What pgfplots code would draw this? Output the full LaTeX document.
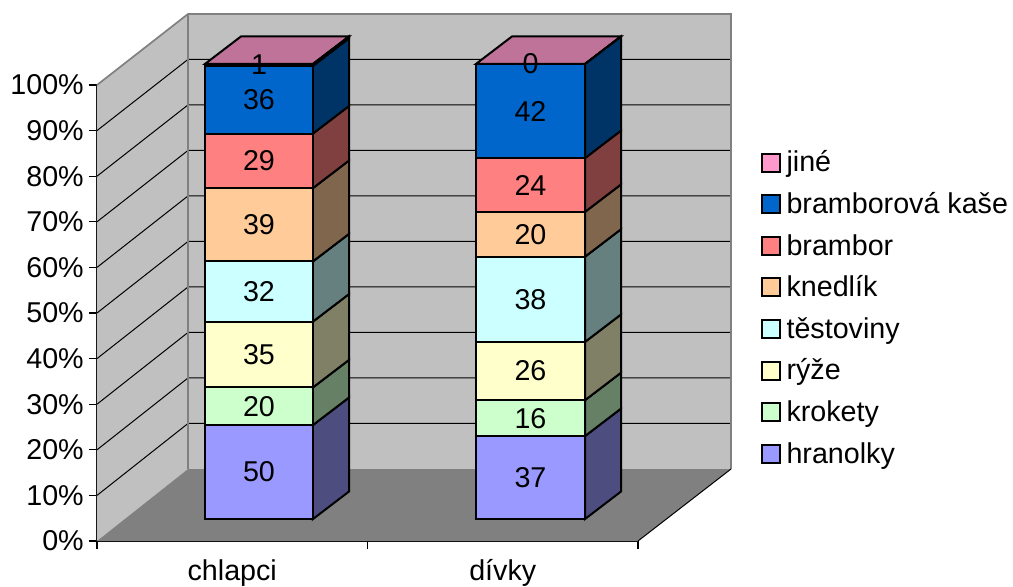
\documentclass[border=0pt]{standalone}
\usepackage{pgfplots}
\pgfplotsset{compat=1.18}
\usepackage{fontspec}
\setmainfont{Liberation Sans}

\definecolor{wall}{HTML}{C0C0C0}
\definecolor{floorc}{HTML}{808080}
\definecolor{hranolky}{HTML}{9999FF}
\definecolor{hranolkyS}{HTML}{4D4D80}
\definecolor{krokety}{HTML}{CCFFCC}
\definecolor{kroketyS}{HTML}{668066}
\definecolor{ryze}{HTML}{FFFFCC}
\definecolor{ryzeS}{HTML}{808066}
\definecolor{testoviny}{HTML}{CCFFFF}
\definecolor{testovinyS}{HTML}{668080}
\definecolor{knedlik}{HTML}{FFCC99}
\definecolor{knedlikS}{HTML}{80664D}
\definecolor{brambor}{HTML}{FF8080}
\definecolor{bramborS}{HTML}{804040}
\definecolor{kase}{HTML}{0066CC}
\definecolor{kaseS}{HTML}{003366}
\definecolor{jine}{HTML}{FF99CC}
\definecolor{jineS}{HTML}{804D66}
\definecolor{jineT}{HTML}{BF7399}

% one drawing unit
\newdimen\px \px=0.75pt
\newcommand{\chartfont}{\fontsize{21.5pt}{24pt}\selectfont}
\tikzset{
  barface/.style={draw=black,line width=2\px,line join=miter},
  vallabel/.style={font=\chartfont,inner sep=0pt,anchor=center},
}

% oblique offsets, in axis units
\def\wallDx{0.3364}\def\wallDy{15.79}\def\wallRight{2.3438}
\def\barDx{0.1331}\def\barDy{6.03}
\def\barBase{4.82}\def\barScale{0.998}

% start a stack: left edge, right edge, sum of its values
\newcommand{\startstack}[3]{%
  \def\xl{#1}\def\xr{#2}\def\total{#3}\def\running{0}%
  \pgfmathsetmacro{\xc}{(#1+#2)/2}%
  \pgfmathsetmacro{\xrd}{#2+\barDx}\pgfmathsetmacro{\xld}{#1+\barDx}%
  \pgfmathsetmacro{\ytop}{\barBase+100*\barScale}%
  \pgfmathsetmacro{\ytopd}{\ytop+\barDy}%
  \edef\temp{\noexpand\addplot[barface,forget plot,fill=jineT] coordinates
    {(\xl,\ytop) (\xr,\ytop) (\xrd,\ytopd) (\xld,\ytopd)} -- cycle;}\temp
}
% one segment of a stack: value, front colour, side colour
\newcommand{\seg}[3]{%
  \pgfmathsetmacro{\ya}{\barBase+\running/\total*100*\barScale}%
  \pgfmathsetmacro{\newrunning}{\running+#1}\let\running\newrunning
  \pgfmathsetmacro{\yb}{\barBase+\running/\total*100*\barScale}%
  \pgfmathsetmacro{\yad}{\ya+\barDy}\pgfmathsetmacro{\ybd}{\yb+\barDy}%
  \pgfmathsetmacro{\ym}{(\ya+\yb)/2}%
  \edef\temp{\noexpand\addplot[barface,forget plot,fill=#3] coordinates
    {(\xr,\ya) (\xrd,\yad) (\xrd,\ybd) (\xr,\yb)} -- cycle;
    \noexpand\addplot[barface,forget plot,fill=#2] coordinates
    {(\xl,\ya) (\xr,\ya) (\xr,\yb) (\xl,\yb)} -- cycle;
    \noexpand\node[vallabel] at (axis cs:\xc,\ym) {#1};}\temp
}

\begin{document}
\begin{tikzpicture}
\useasboundingbox (-97\px,-45\px) rectangle (916\px,541\px);
\begin{axis}[
  at={(0,0)}, anchor=south west,
  scale only axis, width=541\px, height=456\px,
  xmin=0, xmax=2, ymin=0, ymax=100,
  clip=false, no markers,
  axis x line=bottom, axis y line=left,
  axis line style={-,black,line width=1.1\px},
  tick style={black,line width=1.1\px},
  xtick={0.5,1.5}, xticklabels={chlapci,dívky},
  minor xtick={0,1,2},
  major x tick style={draw=none},
  minor tick length=8\px,
  ytick={0,10,...,100},
  yticklabels={0\%,10\%,20\%,30\%,40\%,50\%,60\%,70\%,80\%,90\%,100\%},
  major tick length=8\px,
  tick align=outside,
  xticklabel style={font=\chartfont,inner sep=0pt,yshift=-10\px,text height=16pt,text depth=5pt},
  yticklabel style={font=\chartfont,inner sep=0pt,xshift=-5\px},
  legend image code/.code={%
    \draw[#1,draw=black,line width=2\px] (0,-10\px) rectangle (18\px,8\px);},
  legend cell align=left,
  legend style={
    at={(1.2265,0.8775)}, anchor=north west,
    draw=none, fill=none, font=\chartfont,
    inner sep=0pt, outer sep=0pt,
    row sep=0pt,
    nodes={inner sep=0pt,text height=23.3pt,text depth=7.9pt},
    /tikz/every odd column/.append style={column sep=6\px},
  },
]
% walls and floor
\addplot[fill=wall,draw=none,forget plot] coordinates
  {(0,0) (\wallDx,\wallDy) (\wallDx,115.57) (0,100)} -- cycle;
\addplot[fill=wall,draw=none,forget plot] coordinates
  {(\wallDx,\wallDy) (\wallRight,\wallDy) (\wallRight,115.57) (\wallDx,115.57)} -- cycle;
\addplot[fill=floorc,draw=none,forget plot] coordinates
  {(0,0) (2,0) (\wallRight,\wallDy) (\wallDx,\wallDy)} -- cycle;
% gridlines on the left wall and the back wall
\pgfplotsforeachungrouped \k in {10,20,...,90}{%
  \pgfmathsetmacro{\ga}{\wallDy+\k*0.998}%
  \edef\temp{\noexpand\addplot[black,line width=1\px,forget plot] coordinates
    {(0,\k) (\wallDx,\ga) (\wallRight,\ga)};}\temp
}
% wall outline
\addplot[floorc,line width=1.7\px,forget plot] coordinates
  {(0,100) (\wallDx,115.57) (\wallRight,115.57) (\wallRight,\wallDy)};
\addplot[floorc,line width=1.7\px,forget plot] coordinates
  {(\wallDx,115.57) (\wallDx,\wallDy)};
\addplot[black,line width=1\px,forget plot] coordinates
  {(2,0) (\wallRight,\wallDy)};

% chlapci
\startstack{0.3993}{0.7985}{242}
\seg{50}{hranolky}{hranolkyS}
\seg{20}{krokety}{kroketyS}
\seg{35}{ryze}{ryzeS}
\seg{32}{testoviny}{testovinyS}
\seg{39}{knedlik}{knedlikS}
\seg{29}{brambor}{bramborS}
\seg{36}{kase}{kaseS}
\seg{1}{jine}{jineS}

% dívky
\startstack{1.4011}{1.8041}{203}
\seg{37}{hranolky}{hranolkyS}
\seg{16}{krokety}{kroketyS}
\seg{26}{ryze}{ryzeS}
\seg{38}{testoviny}{testovinyS}
\seg{20}{knedlik}{knedlikS}
\seg{24}{brambor}{bramborS}
\seg{42}{kase}{kaseS}
\seg{0}{jine}{jineS}

\addlegendimage{fill=jine}\addlegendentry{jiné}
\addlegendimage{fill=kase}\addlegendentry{bramborová kaše}
\addlegendimage{fill=brambor}\addlegendentry{brambor}
\addlegendimage{fill=knedlik}\addlegendentry{knedlík}
\addlegendimage{fill=testoviny}\addlegendentry{těstoviny}
\addlegendimage{fill=ryze}\addlegendentry{rýže}
\addlegendimage{fill=krokety}\addlegendentry{krokety}
\addlegendimage{fill=hranolky}\addlegendentry{hranolky}
\end{axis}
\end{tikzpicture}
\end{document}
